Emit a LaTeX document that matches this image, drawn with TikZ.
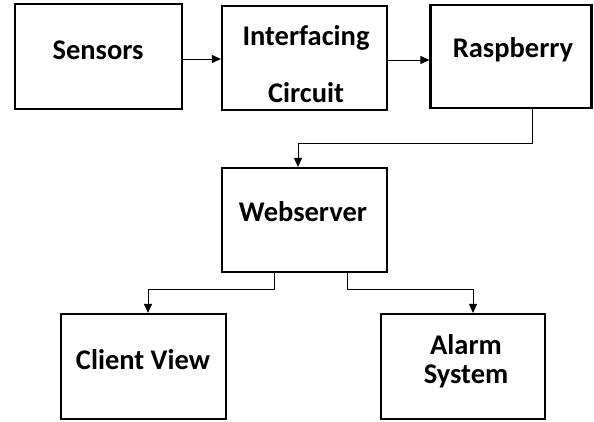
\documentclass[tikz,border=0pt]{standalone}
\usepackage{fontspec}
\setmainfont{Carlito}
\usetikzlibrary{arrows.meta}
\begin{document}
\begin{tikzpicture}[x=1pt,y=-1pt,
  box/.style={draw=black,line width=2.2pt,minimum width=#1,inner sep=0pt},
  lbl/.style={font=\bfseries\fontsize{28.5}{32}\selectfont,inner sep=0pt,anchor=center},
  arr/.style={draw=black,line width=0.9pt,-{Triangle[length=9pt,width=8pt]}}]
\useasboundingbox (0,0) rectangle (594,421);
\node[box=167pt,minimum height=105pt] (sens) at (98.5,56.5) {};
\node[box=165pt,minimum height=104pt] (intf) at (304.5,58) {};
\node[box=161pt,minimum height=103pt] (rasp) at (511,56.5) {};
\node[box=165pt,minimum height=104pt] (web) at (304.5,220) {};
\node[box=165pt,minimum height=105pt] (client) at (143.5,366.5) {};
\node[box=164pt,minimum height=105pt] (alarm) at (463,366.5) {};
\node[lbl] (tsens) at (98,50) {Sensors};
\node[lbl] (tintf1) at (306,38) {Interfacing};
\node[lbl] (tintf2) at (306,93) {Circuit};
\node[lbl] (trasp) at (513,50) {Raspberry};
\node[lbl] (tweb) at (303,212) {Webserver};
\node[lbl] (tclient) at (143,360) {Client View};
\node[lbl] (talarm1) at (466,345) {Alarm};
\node[lbl] (talarm2) at (466,376) {System};
\coordinate (c1) at (532,143);
\coordinate (c2) at (274,289);
\coordinate (c3) at (347,289);
\draw[arr] (sens.east |- 0,59) -- (intf.west |- 0,59);
\draw[arr] (intf.east |- 0,60) -- (rasp.west |- 0,60);
\draw[arr] (rasp.south -| c1) -- (c1) -| ([xshift=-6.5pt]web.north);
\draw[arr] (web.south -| c2) -- (c2) -| ([xshift=4.5pt]client.north);
\draw[arr] (web.south -| c3) -- (c3) -| ([xshift=10pt]alarm.north);
\end{tikzpicture}
\end{document}
